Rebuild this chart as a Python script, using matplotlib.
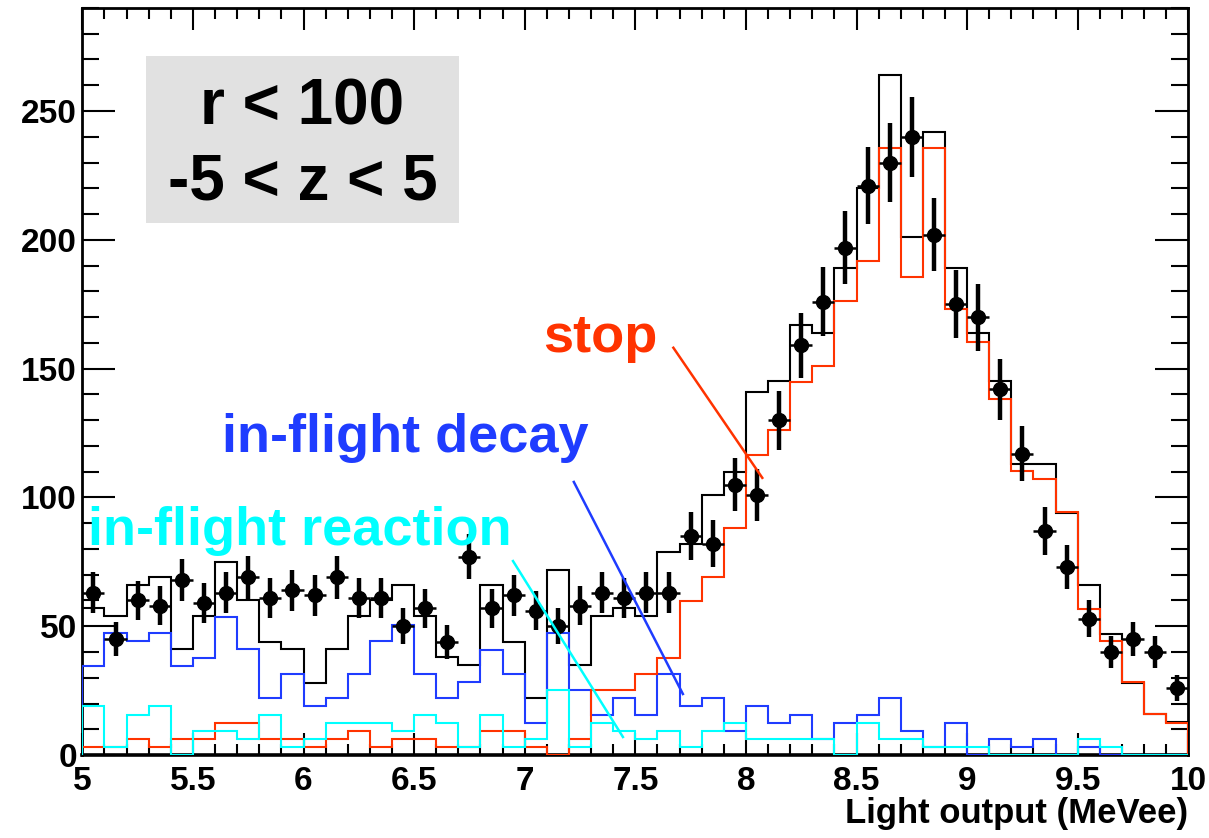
import numpy as np
import matplotlib
matplotlib.use("Agg")
import matplotlib.pyplot as plt
from matplotlib.patches import Rectangle
from matplotlib.ticker import MultipleLocator

plt.rcParams["font.family"] = ["Liberation Sans", "DejaVu Sans"]
plt.rcParams["font.weight"] = "bold"

# light output binning (MeVee), 0.1 wide bins
bin_lo = 5.0
bin_hi = 10.0
n_bins = 50

# data counts per bin
data_counts = [63, 45, 60, 58, 68, 59, 63, 69, 61, 64,
               62, 69, 61, 61, 50, 57, 44, 77, 57, 62,
               56, 50, 58, 63, 61, 63, 63, 85, 82, 105,
               101, 130, 159, 176, 197, 221, 230, 240, 202, 175,
               170, 142, 117, 87, 73, 53, 40, 45, 40, 26]

# simulated total
mc_total = [57, 54, 66, 69, 41, 54, 75, 60, 44, 41,
            28, 41, 54, 60, 66, 54, 38, 35, 66, 44,
            22, 72, 35, 54, 57, 54, 79, 82, 101, 110,
            141, 145, 167, 164, 189, 220, 264, 201, 242, 189,
            164, 145, 113, 113, 94, 66, 47, 28, 16, 13]

# muons stopping in the scintillator
mc_stop = [3.2, 3.2, 6.3, 3.2, 6.3, 6.3, 12.6, 12.6, 6.3, 6.3,
           3.2, 6.3, 9.5, 3.2, 6.3, 6.3, 3.2, 3.2, 9.5, 9.5,
           3.2, 0.0, 6.3, 25.2, 25.2, 31.5, 37.8, 59.8, 69.3, 88.2,
           116.5, 126.0, 144.9, 151.2, 176.4, 191.9, 235.7, 185.4, 235.7, 173.2,
           160.5, 138.4, 110.3, 107.0, 94.4, 56.5, 44.1, 28.4, 15.9, 12.6]

# in-flight decays
mc_decay = [34.6, 47.2, 44.1, 47.2, 34.6, 37.8, 53.5, 41.0, 22.0, 31.5,
            18.9, 22.0, 31.5, 44.1, 50.3, 31.5, 22.0, 28.3, 40.9, 31.5,
            12.6, 47.2, 25.2, 15.7, 22.0, 15.7, 31.5, 18.9, 22.0, 9.4,
            18.9, 12.6, 15.7, 6.3, 12.6, 15.7, 22.0, 9.4, 3.2, 12.6,
            0.0, 6.3, 3.2, 6.3, 0.0, 3.2, 0.0, 0.0, 0.0, 0.0]

# in-flight reactions
mc_reaction = [18.9, 3.2, 15.7, 18.9, 0.0, 9.4, 9.4, 6.3, 15.7, 3.2,
               6.3, 12.6, 12.6, 12.6, 9.4, 15.7, 12.6, 3.2, 15.7, 3.2,
               6.3, 25.2, 3.2, 12.6, 9.4, 6.3, 9.4, 3.2, 9.4, 12.6,
               6.3, 6.3, 6.3, 6.3, 0.0, 12.6, 6.3, 6.3, 3.2, 3.2,
               3.2, 0.0, 0.0, 0.0, 0.0, 6.3, 3.2, 0.0, 0.0, 0.0]

RED = "#ff3300"
BLUE = "#1f3cff"
CYAN = "#00ffff"

edges = np.linspace(bin_lo, bin_hi, n_bins + 1)
centers = 0.5 * (edges[:-1] + edges[1:])
counts = np.array(data_counts, dtype=float)

fig = plt.figure(figsize=(12.09, 8.38), dpi=100)
ax = fig.add_axes([0.0681, 0.0990, 0.9148, 0.8915])

lw = 1.5
ax.stairs(mc_total, edges, color="black", lw=lw, zorder=2)
ax.stairs(mc_decay, edges, color=BLUE, lw=lw, zorder=3)
ax.stairs(mc_stop, edges, color=RED, lw=lw, zorder=4)
ax.stairs(mc_reaction, edges, color=CYAN, lw=lw, zorder=5)

# data points with poisson errors
ax.errorbar(centers, counts, xerr=0.05, fmt="none", ecolor="black",
            elinewidth=1.8, capsize=0, zorder=6)
ax.errorbar(centers, counts, yerr=np.sqrt(counts), fmt="o", color="black",
            ms=10, elinewidth=3.2, capsize=0, zorder=7)

ax.set_xlim(bin_lo, bin_hi)
ax.set_ylim(0, 290)

ax.xaxis.set_major_locator(MultipleLocator(0.5))
ax.xaxis.set_minor_locator(MultipleLocator(0.1))
ax.yaxis.set_major_locator(MultipleLocator(50))
ax.yaxis.set_minor_locator(MultipleLocator(10))
ax.xaxis.set_major_formatter(matplotlib.ticker.FuncFormatter(lambda v, p: f"{v:g}"))

ax.tick_params(axis="x", which="major", direction="in", length=16, width=1.5,
               top=True, labelsize=24, pad=8)
ax.tick_params(axis="x", which="minor", direction="in", length=8, width=1.5, top=True)
ax.tick_params(axis="y", which="major", direction="in", length=24, width=1.5,
               right=True, labelsize=24, pad=4)
ax.tick_params(axis="y", which="minor", direction="in", length=12, width=1.5, right=True)
for lab in ax.get_xticklabels() + ax.get_yticklabels():
    lab.set_fontweight("bold")
for sp in ax.spines.values():
    sp.set_linewidth(2)
ax.spines["bottom"].set_linewidth(2.6)

# selection cuts box
ax.add_patch(Rectangle((0.0576, 0.7125), 0.283, 0.2236, transform=ax.transAxes,
                       facecolor="#e1e1e1", edgecolor="none", zorder=1))
ax.text(0.199, 0.8437, "r < 100", transform=ax.transAxes, ha="center",
        va="baseline", fontsize=46, fontweight="bold", zorder=8)
ax.text(0.199, 0.7433, "-5 < z < 5", transform=ax.transAxes, ha="center",
        va="baseline", fontsize=46, fontweight="bold", zorder=8)

# component labels with pointer lines
ax.text(7.083, 156.5, "stop", color=RED, fontsize=39, fontweight="bold",
        ha="left", va="baseline", zorder=8)
ax.plot([7.672, 8.074], [158.1, 107.6], color=RED, lw=1.8, zorder=8)

ax.text(5.632, 117.7, "in-flight decay", color=BLUE, fontsize=39, fontweight="bold",
        ha="left", va="baseline", zorder=8)
ax.plot([7.222, 7.715], [106.0, 23.7], color=BLUE, lw=1.8, zorder=8)

ax.text(5.026, 81.6, "in-flight reaction", color=CYAN, fontsize=39, fontweight="bold",
        ha="left", va="baseline", zorder=8)
ax.plot([6.947, 7.444], [75.3, 7.0], color=CYAN, lw=1.8, zorder=8)

fig.text(0.9826, 0.0179, "Light output (MeVee)", ha="right", va="baseline",
         fontsize=25, fontweight="bold")

fig.savefig("out.png", dpi=100)
